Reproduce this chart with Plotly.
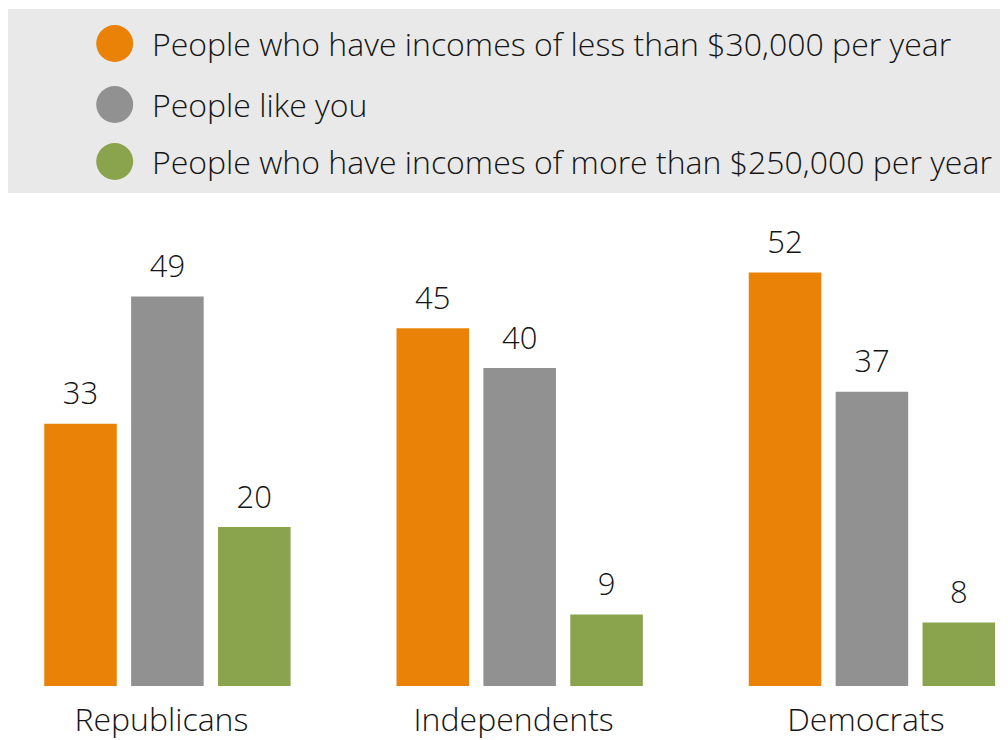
import plotly.graph_objects as go

categories = ["Republicans", "Independents", "Democrats"]
series_names = [
    "People who have incomes of less than $30,000 per year",
    "People like you",
    "People who have incomes of more than $250,000 per year",
]
low_income = [33, 45, 52]
like_you = [49, 40, 37]
high_income = [20, 9, 8]
series_values = [low_income, like_you, high_income]
colors = ["#E98207", "#919191", "#8AA34D"]

FONT = "Open Sans, Liberation Sans, Arial, sans-serif"
FW = 300
FS_LEGEND = 32
FS_CAT = 32
FS_VAL = 31
TEXT_COLOR = "#151515"
W, H = 1008, 740
M_T, M_B = 192, 62
plot_h = H - M_T - M_B

fig = go.Figure()
for name, vals, col in zip(series_names, series_values, colors):
    fig.add_trace(go.Bar(
        x=categories, y=vals, name=name, marker_color=col,
        marker_line_width=0, offsetgroup=name, showlegend=False,
        hoverinfo="x+y",
    ))
for name, vals, col in zip(series_names, series_values, colors):
    fig.add_trace(go.Scatter(
        x=categories, y=vals, mode="markers+text", offsetgroup=name,
        text=[str(v) for v in vals], textposition="top center",
        textfont=dict(family=FONT, size=FS_VAL, color=TEXT_COLOR, weight=FW),
        marker=dict(size=17, color="rgba(0,0,0,0)"),
        showlegend=False, hoverinfo="skip", cliponaxis=False,
    ))

# legend panel
def py2paper(py):
    return (H - M_B - py) / plot_h

shapes = [dict(type="rect", xref="paper", yref="paper",
               x0=0, x1=1.0, y0=py2paper(185), y1=py2paper(1),
               fillcolor="#E9E9E9", line_width=0, layer="below")]
annotations = []
legend_y = [35.5, 96.5, 153.5]
cx = 106.7
r = 18.5
for name, col, cy in zip(series_names, colors, legend_y):
    shapes.append(dict(type="circle", xref="paper", yref="paper",
                       x0=(cx - r) / W, x1=(cx + r) / W,
                       y0=py2paper(cy + r), y1=py2paper(cy - r),
                       fillcolor=col, line_width=0))
    annotations.append(dict(xref="paper", yref="paper", x=142 / W, y=py2paper(cy),
                            xanchor="left", yanchor="middle", text=name, showarrow=False,
                            font=dict(family=FONT, size=FS_LEGEND, color=TEXT_COLOR, weight=FW)))

fig.update_layout(
    width=W, height=H,
    margin=dict(l=0, r=0, t=M_T, b=M_B),
    paper_bgcolor="white", plot_bgcolor="white",
    barmode="group", bargap=0.26, bargroupgap=0.165,
    scattermode="group", scattergap=0.26,
    shapes=shapes, annotations=annotations,
    xaxis=dict(range=[-0.4525, 2.409], showgrid=False, zeroline=False, showline=False,
               ticks="", ticklabelstandoff=12, ticklabelshift=-6,
               tickfont=dict(family=FONT, size=FS_CAT, color=TEXT_COLOR, weight=FW)),
    yaxis=dict(range=[0, plot_h / 7.95], visible=False, showgrid=False, zeroline=False),
    font=dict(family=FONT, color=TEXT_COLOR),
)

fig.write_html("out.html")
